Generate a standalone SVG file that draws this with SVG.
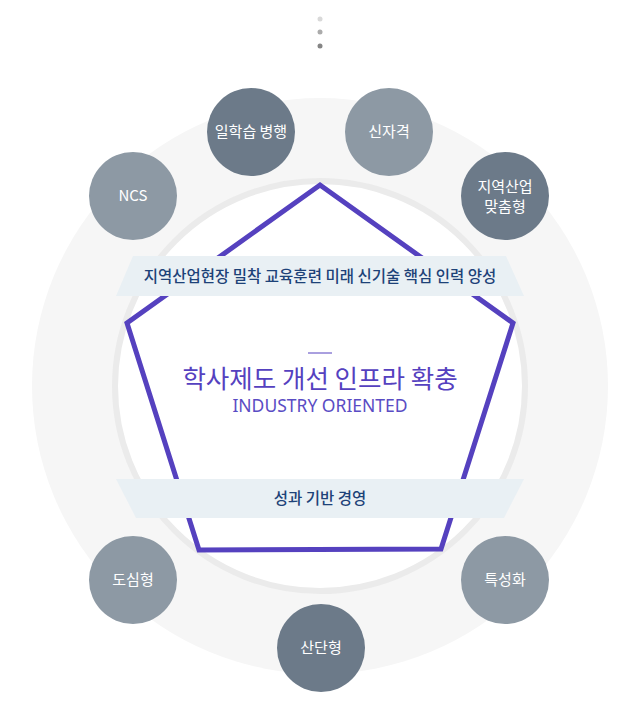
<svg xmlns="http://www.w3.org/2000/svg" width="640" height="709" viewBox="0 0 640 709">
<style>
text{font-family:"Noto Sans CJK KR","Noto Sans",sans-serif;text-anchor:middle}
.light{fill:#8d99a4}
.dark{fill:#6c7a89}
.lbl{fill:#ffffff;font-size:15px}
.banner{fill:#e9f0f4}
.btxt{fill:#1d4278;font-size:15.5px;font-weight:500}
</style>
<rect width="640" height="709" fill="#ffffff"/>
<g id="dots">
<circle cx="320" cy="19" r="2.5" fill="#d9d9d9"/>
<circle cx="320" cy="32" r="2.5" fill="#ababab"/>
<circle cx="320" cy="46" r="2.5" fill="#858585"/>
</g>
<g id="background">
<circle cx="320" cy="386" r="288" fill="#f6f6f6"/>
<circle cx="320" cy="386" r="205" fill="#ffffff" stroke="#ebebeb" stroke-width="6"/>
</g>
<g id="pentagon">
<polygon points="320,185 513,323 441,549 199,550 127,323" fill="none" stroke="#5541bf" stroke-width="5" stroke-linejoin="miter"/>
</g>
<g id="banner-top">
<polygon class="banner" points="133,256 506,256 524,296 116,296"/>
<text class="btxt" x="320" y="282">지역산업현장 밀착 교육훈련 미래 신기술 핵심 인력 양성</text>
</g>
<g id="banner-bottom">
<polygon class="banner" points="116,479 524,479 504,518 136,518"/>
<text class="btxt" x="320" y="504">성과 기반 경영</text>
</g>
<g id="center">
<line x1="308" y1="353" x2="332" y2="353" stroke="#5541bf" stroke-width="1"/>
<text x="320" y="388" fill="#5541bf" font-size="25.5">학사제도 개선 인프라 확충</text>
<text x="320" y="412" fill="#5a4cc4" font-size="17.5" style="font-family:'Noto Sans',sans-serif">INDUSTRY ORIENTED</text>
</g>
<g id="node-ncs">
<circle class="light" cx="133" cy="196" r="44"/>
<text class="lbl" x="133" y="201">NCS</text>
</g>
<g id="node-work">
<circle class="dark" cx="251" cy="132" r="44"/>
<text class="lbl" x="251" y="137">일학습 병행</text>
</g>
<g id="node-qual">
<circle class="light" cx="389" cy="132" r="44"/>
<text class="lbl" x="389" y="137">신자격</text>
</g>
<g id="node-region">
<circle class="dark" cx="505" cy="196" r="44"/>
<text class="lbl" x="505" y="192">지역산업</text>
<text class="lbl" x="505" y="212">맞춤형</text>
</g>
<g id="node-urban">
<circle class="light" cx="133" cy="580" r="44"/>
<text class="lbl" x="133" y="585">도심형</text>
</g>
<g id="node-industrial">
<circle class="dark" cx="321" cy="648" r="44"/>
<text class="lbl" x="321" y="653">산단형</text>
</g>
<g id="node-special">
<circle class="light" cx="505" cy="580" r="44"/>
<text class="lbl" x="505" y="585">특성화</text>
</g>
<g id="connectors"></g>
</svg>
